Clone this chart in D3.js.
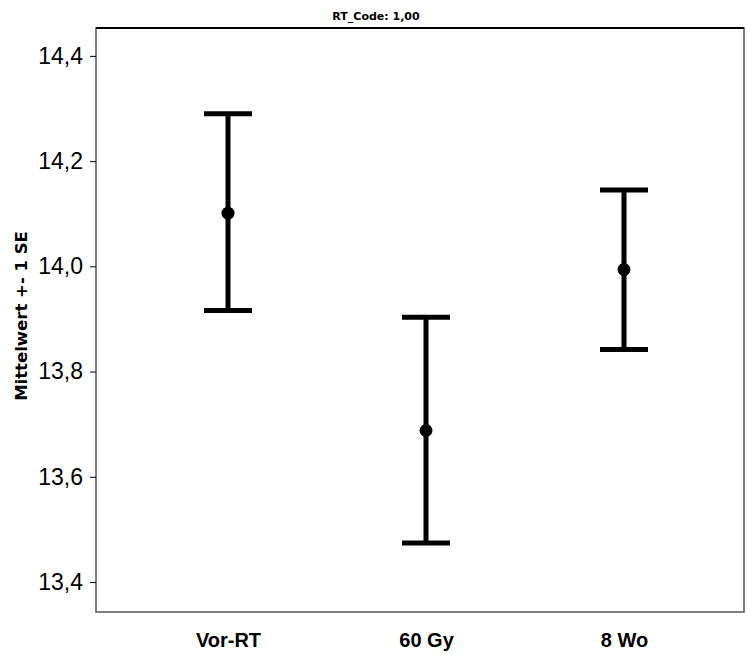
<!DOCTYPE html>
<html>
<head>
<meta charset="utf-8">
<script src="https://d3js.org/d3.v7.min.js"></script>
<style>
body { margin: 0; background: #fff; }
text { font-family: "Liberation Sans", Arial, sans-serif; }
</style>
</head>
<body>
<div id="chart"></div>
<script>
// data
let groups = ["Vor-RT", "60 Gy", "8 Wo"];
let means = [14.101, 13.688, 13.994];
let upper = [14.290, 13.903, 14.145];
let lower = [13.916, 13.474, 13.842];
let yTicks = [13.4, 13.6, 13.8, 14.0, 14.2, 14.4];

let svgWidth = 747;
let svgHeight = 655;

let margin = {
  top: 28,
  right: 3,
  bottom: 43,
  left: 96
};

let width = svgWidth - margin.left - margin.right;
let height = svgHeight - margin.top - margin.bottom;

let svg = d3.select("#chart")
  .append("svg")
  .attr("width", svgWidth)
  .attr("height", svgHeight);

let chartGroup = svg.append("g")
  .attr("transform", `translate(${margin.left}, ${margin.top})`);

let xScale = d3.scalePoint()
  .domain(groups)
  .range([132, 528]);

let yScale = d3.scaleLinear()
  .domain([13.343, 14.453])
  .range([height, 0]);

let fmt = d => d3.format(".1f")(d).replace(".", ",");

// frame
chartGroup.append("rect")
  .attr("x", 0)
  .attr("y", 0)
  .attr("width", width)
  .attr("height", height)
  .attr("fill", "none")
  .attr("stroke", "#555")
  .attr("stroke-width", 1.5);

chartGroup.append("line")
  .attr("x1", 0)
  .attr("x2", width)
  .attr("y1", 0)
  .attr("y2", 0)
  .attr("stroke", "#000")
  .attr("stroke-width", 2);

// y axis
let leftAxis = d3.axisLeft(yScale)
  .tickValues(yTicks)
  .tickFormat(fmt)
  .tickSize(6)
  .tickPadding(7);

let yAxis = chartGroup.append("g").call(leftAxis);
yAxis.select(".domain").remove();
yAxis.selectAll("line").attr("stroke", "#000");
yAxis.selectAll("text")
  .attr("fill", "#000")
  .style("font-size", "23px");

// x axis labels
let bottomAxis = d3.axisBottom(xScale)
  .tickSize(0)
  .tickPadding(21);

let xAxis = chartGroup.append("g")
  .attr("transform", `translate(0, ${height})`)
  .call(bottomAxis);
xAxis.select(".domain").remove();
xAxis.selectAll("text")
  .attr("fill", "#000")
  .style("font-size", "20px")
  .style("font-weight", "bold");

// error bars
let bars = chartGroup.selectAll(".bar")
  .data(groups)
  .enter()
  .append("g")
  .attr("class", "bar");

bars.append("line")
  .attr("x1", d => xScale(d))
  .attr("x2", d => xScale(d))
  .attr("y1", (d, i) => yScale(upper[i]))
  .attr("y2", (d, i) => yScale(lower[i]))
  .attr("stroke", "#000")
  .attr("stroke-width", 5);

bars.append("line")
  .attr("x1", d => xScale(d) - 24)
  .attr("x2", d => xScale(d) + 24)
  .attr("y1", (d, i) => yScale(upper[i]))
  .attr("y2", (d, i) => yScale(upper[i]))
  .attr("stroke", "#000")
  .attr("stroke-width", 5);

bars.append("line")
  .attr("x1", d => xScale(d) - 24)
  .attr("x2", d => xScale(d) + 24)
  .attr("y1", (d, i) => yScale(lower[i]))
  .attr("y2", (d, i) => yScale(lower[i]))
  .attr("stroke", "#000")
  .attr("stroke-width", 5);

bars.append("circle")
  .attr("cx", d => xScale(d))
  .attr("cy", (d, i) => yScale(means[i]))
  .attr("r", 6.5)
  .attr("fill", "#000");

// y axis title
chartGroup.append("text")
  .attr("transform", "rotate(-90)")
  .attr("x", -height / 2 + 4)
  .attr("y", -margin.left + 27)
  .attr("text-anchor", "middle")
  .style("font-family", "'DejaVu Sans', sans-serif")
  .style("font-size", "16.5px")
  .style("font-weight", "bold")
  .text("Mittelwert +- 1 SE");

// panel title
svg.append("text")
  .attr("x", 376)
  .attr("y", 20)
  .attr("text-anchor", "middle")
  .style("font-family", "'DejaVu Sans', sans-serif")
  .style("font-size", "11px")
  .style("font-weight", "bold")
  .text("RT_Code: 1,00");
</script>
</body>
</html>
